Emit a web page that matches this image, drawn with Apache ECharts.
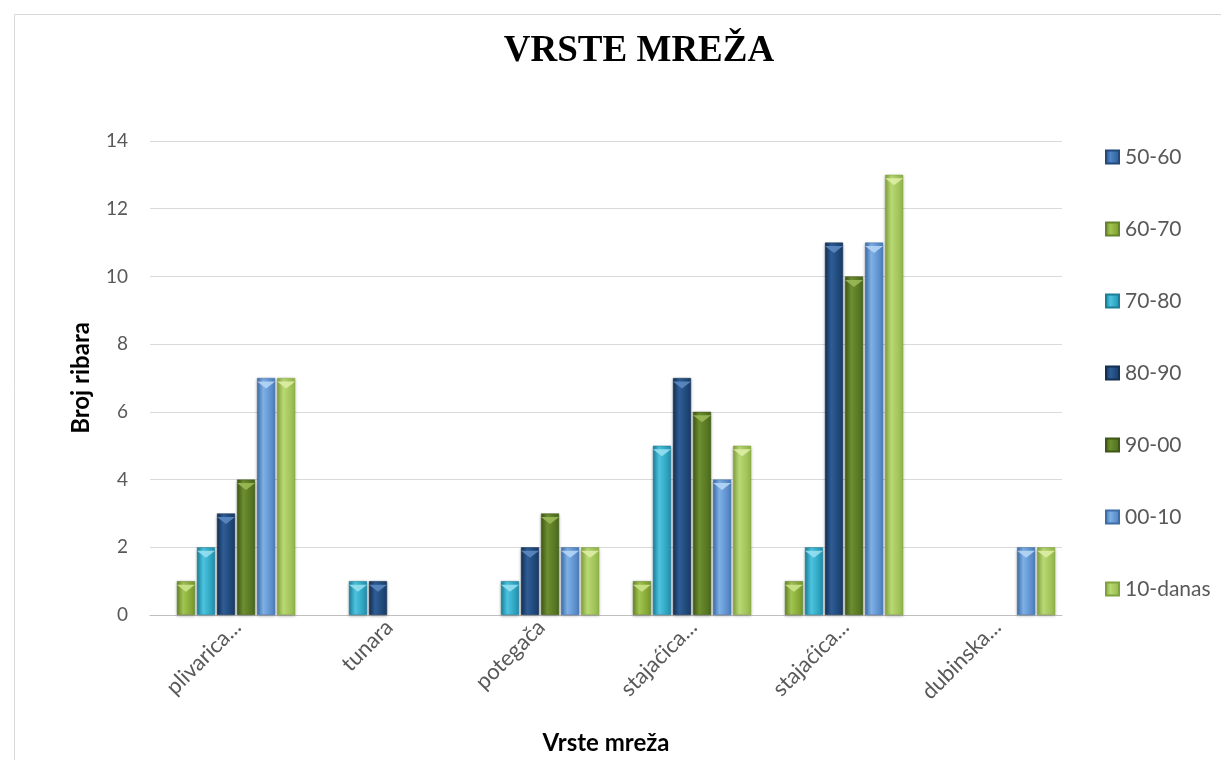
<!DOCTYPE html>
<html><head><meta charset="utf-8">
<script src="https://cdn.jsdelivr.net/npm/echarts@6/dist/echarts.min.js"></script>
<style>html,body{margin:0;padding:0;background:#fff}#c{width:1221px;height:760px}</style>
</head><body><div id="c"></div>
<script>
const categories = ['plivarica...', 'tunara', 'potegača', 'stajaćica...', 'stajaćica...', 'dubinska...'];
const seriesNames = ['50-60', '60-70', '70-80', '80-90', '90-00', '00-10', '10-danas'];
const s5060 = [0, 0, 0, 0, 0, 0];
const s6070 = [1, 0, 0, 1, 1, 0];
const s7080 = [2, 1, 1, 5, 2, 0];
const s8090 = [3, 1, 2, 7, 11, 0];
const s9000 = [4, 0, 3, 6, 10, 0];
const s0010 = [7, 0, 2, 4, 11, 2];
const s10danas = [7, 0, 2, 5, 13, 2];
const yTicks = [0, 2, 4, 6, 8, 10, 12, 14];

const seriesData = [s5060, s6070, s7080, s8090, s9000, s0010, s10danas];
const colors = [
  ['#2b5a93', '#4f86c6', '#23497a', '#8fb8e8'],
  ['#77992c', '#a2c450', '#65832a', '#d0e68f'],
  ['#1f93b0', '#4cc3df', '#1a7e97', '#9be3f3'],
  ['#173c68', '#2e5d96', '#132f52', '#5f8cc4'],
  ['#4c6a1c', '#6d8f2f', '#3e5717', '#9dbd5a'],
  ['#4a7fc0', '#7eb0e6', '#3d6ca6', '#b9d8f7'],
  ['#93b849', '#b9d874', '#80a23c', '#e0f0a8']
];
function grad(c) {
  return new echarts.graphic.LinearGradient(0, 0, 1, 0, [
    {offset: 0, color: c[2]}, {offset: 0.35, color: c[1]}, {offset: 1, color: c[0]}
  ]);
}
const nz = arr => arr.map(v => v === 0 ? null : v);
const chart = echarts.init(document.getElementById('c'), null, {renderer: 'canvas'});
const font = 'Lato, "Open Sans", sans-serif';
const barLayout = {barGap: '11%', barCategoryGap: '9%'};
const barSeries = seriesNames.map((n, i) => Object.assign({
  name: n, type: 'bar', data: nz(seriesData[i]),
  itemStyle: {color: grad(colors[i]), borderColor: colors[i][2], borderWidth: 0.5,
    shadowColor: 'rgba(0,0,0,0.25)', shadowBlur: 3, shadowOffsetY: 1}
}, barLayout));
const capSeries = seriesNames.map((n, i) => Object.assign({
  name: n, type: 'pictorialBar', data: nz(seriesData[i]),
  symbol: 'triangle', symbolRotate: 180, symbolPosition: 'end',
  symbolSize: ['100%', 7], symbolOffset: [0, '50%'],
  itemStyle: {color: colors[i][3], opacity: 0.85},
  z: 3, silent: true, legendHoverLink: false
}, barLayout));
chart.setOption({
  animation: false,
  backgroundColor: '#fff',
  graphic: [{type: 'rect', left: 12, top: 12, shape: {width: 1240, height: 800}, style: {fill: 'none', stroke: '#d9d9d9', lineWidth: 1}, z: -1}],
  title: {
    text: 'VRSTE MREŽA', left: 634, top: 28, textAlign: 'center',
    textStyle: {fontFamily: '"Liberation Serif", serif', fontWeight: 'bold', fontSize: 37, color: '#000'}
  },
  legend: {
    orient: 'vertical', left: 1100, top: 141, itemGap: 50, itemWidth: 13, itemHeight: 13,
    icon: 'rect',
    textStyle: {fontFamily: font, fontSize: 21, lineHeight: 22, color: '#595959', padding: [0, 0, 0, 1]},
    data: seriesNames
  },
  grid: {left: 150, right: 159, top: 141, bottom: 143},
  xAxis: {
    type: 'category', data: categories,
    name: 'Vrste mreža', nameLocation: 'middle', nameGap: 116,
    nameTextStyle: {fontFamily: font, fontWeight: 'bold', fontSize: 24, color: '#000'},
    axisLine: {lineStyle: {color: '#bfbfbf'}},
    axisTick: {show: false},
    axisLabel: {rotate: 45, fontFamily: font, fontSize: 22, color: '#595959', margin: 20, interval: 0,
      padding: [0, -16, 0, 0]}
  },
  yAxis: {
    type: 'value', min: 0, max: 14, interval: 2,
    name: 'Broj ribara', nameLocation: 'middle', nameGap: 57, nameRotate: 90,
    nameTextStyle: {fontFamily: font, fontWeight: 'bold', fontSize: 24, color: '#000'},
    axisLine: {show: false}, axisTick: {show: false},
    axisLabel: {fontFamily: font, fontSize: 19, color: '#595959', margin: 22,
      formatter: v => yTicks.includes(v) ? String(v) : ''},
    splitLine: {lineStyle: {color: '#d9d9d9'}}
  },
  series: barSeries.concat(capSeries)
});
</script></body></html>
